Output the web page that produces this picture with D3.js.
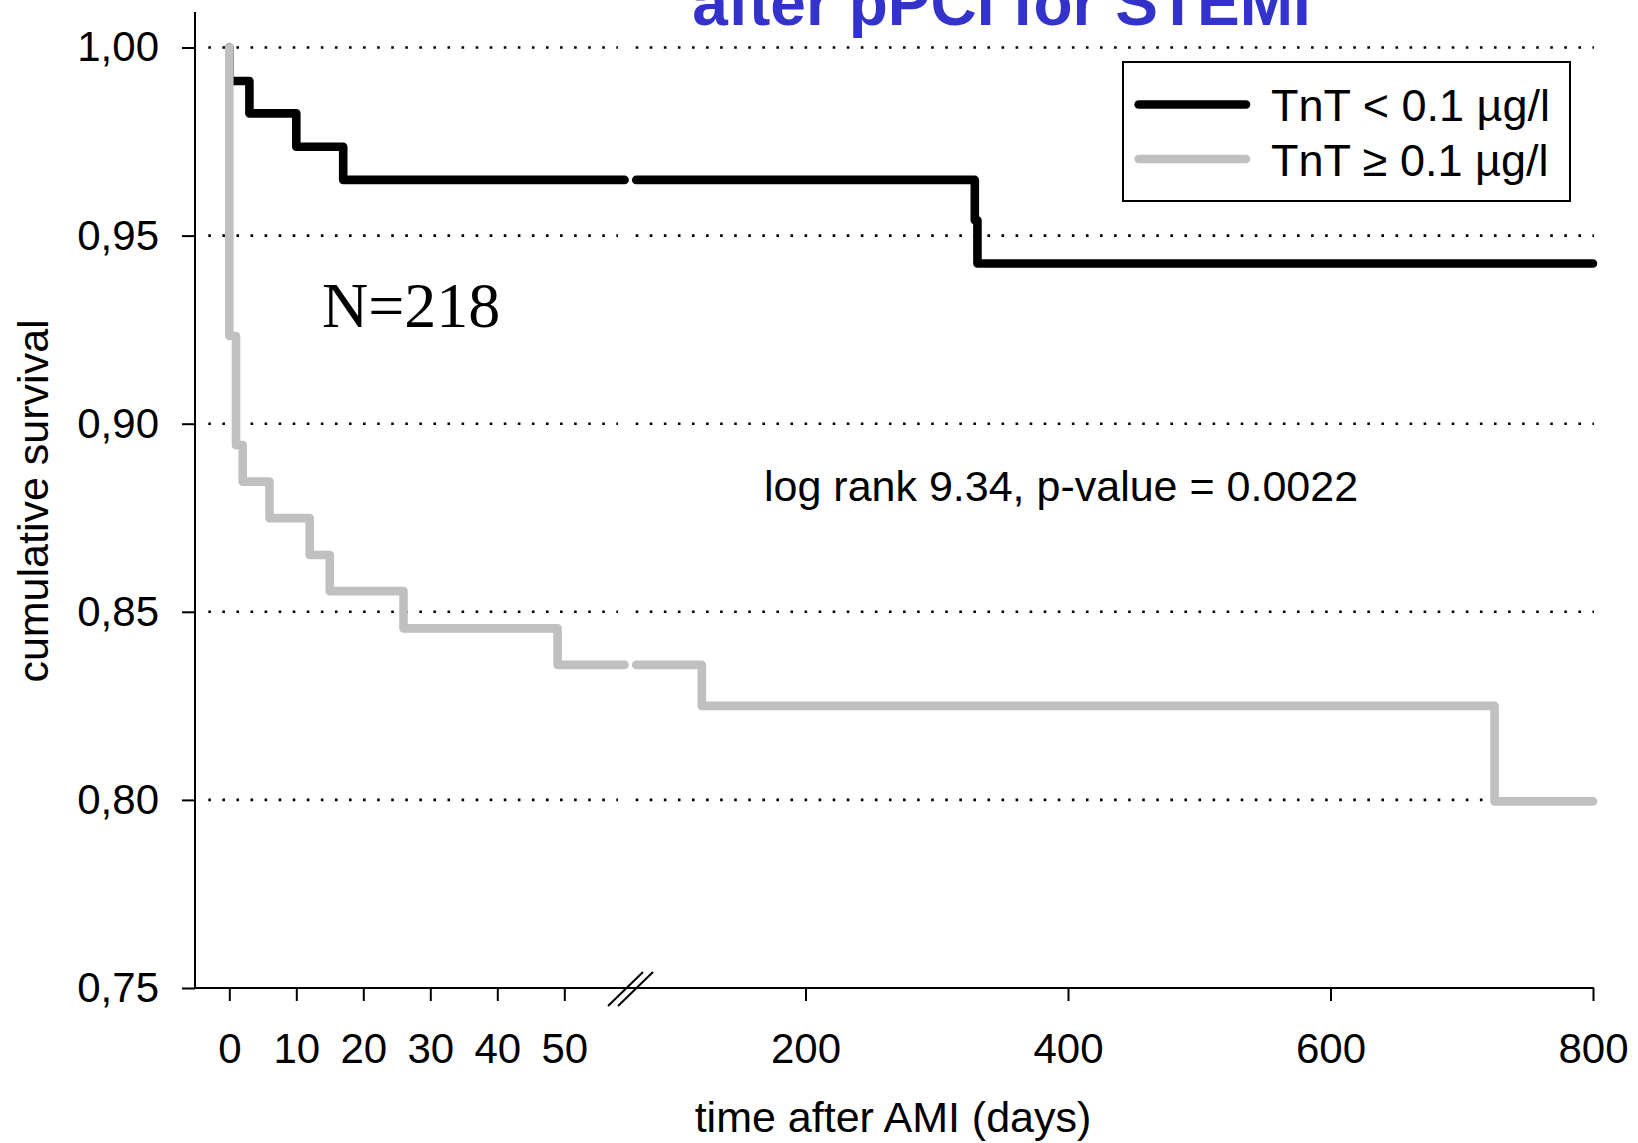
<!DOCTYPE html>
<html>
<head>
<meta charset="utf-8">
<script src="https://cdn.jsdelivr.net/npm/d3@7"></script>
<style>
  html, body { margin: 0; padding: 0; background: #fff; }
  svg { display: block; }
</style>
</head>
<body>
<svg id="chart" width="1638" height="1143"></svg>
<script>
// ---------- data ----------
const titleText = "after pPCI for STEMI";
const seriesNames = ["TnT < 0.1 µg/l", "TnT \u2265 0.1 µg/l"];
// Kaplan-Meier step events (time in days, survival after the step)
const lowTimes  = [0, 3, 10, 17, 329, 331];
const lowSurv   = [0.9911, 0.9825, 0.9736, 0.9648, 0.9541, 0.9426];
const highTimes = [0, 1, 2, 6, 12, 15, 26, 49, 121, 725];
const highSurv  = [0.9233, 0.8943, 0.8846, 0.8749, 0.8651, 0.8555, 0.8456, 0.8359, 0.8250, 0.7996];
const followUpEnd = 800;
const leftTicks  = [0, 10, 20, 30, 40, 50];
const rightTicks = [200, 400, 600, 800];
const yTicks     = [0.75, 0.80, 0.85, 0.90, 0.95, 1.00];
const gridValues = [0.80, 0.85, 0.90, 0.95, 1.00];
const breakLeft = 59, breakRight = 71;   // axis break (days)
const annotationN = "N=218";
const annotationStat = "log rank 9.34, p-value = 0.0022";

const SANS = "'Liberation Sans', Arial, sans-serif";
const SERIF = "'Liberation Serif', 'Times New Roman', serif";

// ---------- scales ----------
const svg = d3.select("#chart");
const xL = d3.scaleLinear().domain([0, 50]).range([229.3, 564.3]);
const xR = d3.scaleLinear().domain([200, 800]).range([805.5, 1593]);
const y  = d3.scaleLinear().domain([0.75, 1.0]).range([988, 47.5]);
const xAny = t => (t <= breakLeft ? xL(t) : xR(t));
const axisY = 988, axisX = 195;

const loc = d3.formatLocale({decimal: ",", thousands: ".", grouping: [3], currency: ["", ""]});
const yFmt = loc.format(".2f");

// ---------- grid (dotted) ----------
const gridG = svg.append("g");
gridValues.forEach(v => {
  [[208.3, 618], [635.7, 1594]].forEach(([a, b]) => {
    gridG.append("line")
      .attr("x1", a).attr("x2", b)
      .attr("y1", y(v)).attr("y2", y(v))
      .attr("stroke", "#000").attr("stroke-width", 2.6)
      .attr("stroke-dasharray", "2.6 11.47");
  });
});

// ---------- axes ----------
const yAxis = d3.axisLeft(y).tickValues(yTicks).tickFormat(yFmt).tickSize(13).tickPadding(23).tickSizeOuter(0);
const gy = svg.append("g").attr("transform", `translate(${axisX},0)`).call(yAxis);
gy.select(".domain").remove();
gy.selectAll(".tick line").attr("stroke-width", 2);
gy.selectAll(".tick text").style("font-size", "42px").style("font-family", SANS).attr("fill", "#000");
svg.append("line").attr("x1", axisX).attr("x2", axisX).attr("y1", 12).attr("y2", axisY + 1)
  .attr("stroke", "#000").attr("stroke-width", 2);

function styleX(g) {
  g.select(".domain").remove();
  g.selectAll(".tick line").attr("stroke-width", 2);
  g.selectAll(".tick text").style("font-size", "42px").style("font-family", SANS)
    .attr("fill", "#000").attr("y", 75).attr("dy", null);
}
svg.append("g").attr("transform", `translate(0,${axisY})`)
  .call(d3.axisBottom(xL).tickValues(leftTicks).tickSize(13)).call(styleX);
svg.append("g").attr("transform", `translate(0,${axisY})`)
  .call(d3.axisBottom(xR).tickValues(rightTicks).tickSize(13)).call(styleX);
svg.append("line").attr("x1", axisX - 1).attr("x2", 1594).attr("y1", axisY).attr("y2", axisY)
  .attr("stroke", "#000").attr("stroke-width", 2);

// break marks
[0, 10].forEach(dx => {
  svg.append("line").attr("x1", 608 + dx).attr("y1", 1006).attr("x2", 643 + dx).attr("y2", 972)
    .attr("stroke", "#000").attr("stroke-width", 2);
});

// axis titles
svg.append("text").attr("x", 893).attr("y", 1132).attr("text-anchor", "middle")
  .style("font-family", SANS).style("font-size", "43px").text("time after AMI (days)");
svg.append("text").attr("transform", "translate(48,501) rotate(-90)").attr("text-anchor", "middle")
  .style("font-family", SANS).style("font-size", "43px").text("cumulative survival");

// ---------- curves ----------
function buildPoints(times, surv) {
  const pts = [{t: 0, s: 1}];
  times.forEach((t, i) => pts.push({t: t, s: surv[i]}));
  return pts;
}
function survAt(pts, t) {
  let s = 1;
  pts.forEach(p => { if (p.t <= t) s = p.s; });
  return s;
}
function segments(pts) {
  const left = pts.filter(p => p.t <= breakLeft);
  left.push({t: breakLeft, s: survAt(pts, breakLeft)});
  const right = [{t: breakRight, s: survAt(pts, breakRight)}].concat(pts.filter(p => p.t > breakRight));
  right.push({t: followUpEnd, s: survAt(pts, followUpEnd)});
  return [left, right];
}
const line = d3.line().x(d => xAny(d.t)).y(d => y(d.s)).curve(d3.curveStepAfter);
const series = [
  {pts: buildPoints(lowTimes, lowSurv), color: "#000000"},
  {pts: buildPoints(highTimes, highSurv), color: "#c0c0c0"}
];
series.forEach(sr => {
  segments(sr.pts).forEach(seg => {
    svg.append("path").attr("d", line(seg)).attr("fill", "none")
      .attr("stroke", sr.color).attr("stroke-width", 8.6)
      .attr("stroke-linecap", "round").attr("stroke-linejoin", "round");
  });
});

// ---------- annotations ----------
svg.append("text").attr("x", 1001.5).attr("y", 25).attr("text-anchor", "middle")
  .style("font-family", SANS).style("font-size", "64px").style("font-weight", "bold")
  .attr("fill", "#3333cc").text(titleText);
svg.append("text").attr("x", 322).attr("y", 327)
  .style("font-family", SERIF).style("font-size", "64px").attr("fill", "#000").text(annotationN);
svg.append("text").attr("x", 764).attr("y", 501)
  .style("font-family", SANS).style("font-size", "43px").attr("fill", "#000").text(annotationStat);

// ---------- legend ----------
const lg = svg.append("g");
lg.append("rect").attr("x", 1123).attr("y", 62).attr("width", 447).attr("height", 139)
  .attr("fill", "#fff").attr("stroke", "#000").attr("stroke-width", 2);
[{c: "#000000", yy: 104.5, ty: 121}, {c: "#c0c0c0", yy: 159, ty: 175.5}].forEach((d, i) => {
  lg.append("line").attr("x1", 1138.6).attr("x2", 1246).attr("y1", d.yy).attr("y2", d.yy)
    .attr("stroke", d.c).attr("stroke-width", 8.6).attr("stroke-linecap", "round");
  lg.append("text").attr("x", 1271).attr("y", d.ty)
    .style("font-family", SANS).style("font-size", "45px").attr("fill", "#000").text(seriesNames[i]);
});
</script>
</body>
</html>
